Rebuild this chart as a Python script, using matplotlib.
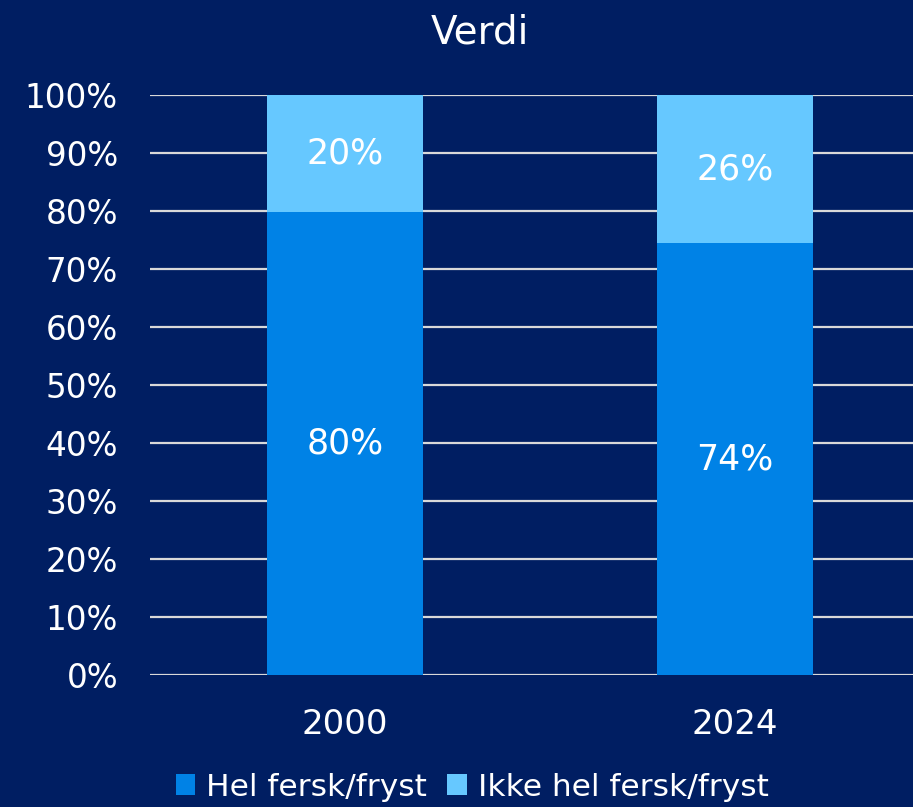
import matplotlib
matplotlib.use("Agg")
import matplotlib.pyplot as plt
import numpy as np

categories = ["2000", "2024"]
hel = [79.8, 74.4]
ikke_hel = [20.2, 25.6]
series_names = ["Hel fersk/fryst", "Ikke hel fersk/fryst"]
title = "Verdi"

BG = "#001E62"
C_DARK = "#0082E6"
C_LIGHT = "#66C8FF"
GRID = "#D9D9D9"

plt.rcParams['font.family'] = ['DejaVu Sans']

fig = plt.figure(figsize=(9.13, 8.07), dpi=100, facecolor=BG)
ax = fig.add_axes([150/913, 132/807, 763/913, 580/807], facecolor=BG)

x = np.arange(len(categories))
w = 0.4
ax.bar(x, hel, width=w, color=C_DARK, label=series_names[0], zorder=3)
ax.bar(x, ikke_hel, width=w, bottom=hel, color=C_LIGHT, label=series_names[1], zorder=3)

FS = 23.5
FS_LBL = 25
for i in range(len(categories)):
    ax.text(x[i], hel[i] / 2, f"{round(hel[i]):d}%", ha='center', va='center',
            color='white', fontsize=FS_LBL, zorder=4)
    ax.text(x[i], hel[i] + ikke_hel[i] / 2, f"{round(ikke_hel[i]):d}%", ha='center',
            va='center', color='white', fontsize=FS_LBL, zorder=4)

ax.set_xlim(-0.5, 1.456)
ax.set_ylim(0, 100)
ax.set_yticks(np.arange(0, 101, 10))
ax.set_yticklabels([f"{v}%" for v in range(0, 101, 10)])
ax.set_xticks(x)
ax.set_xticklabels(categories)
ax.tick_params(axis='y', length=0, pad=23, labelsize=FS, labelcolor='white')
ax.tick_params(axis='x', length=0, pad=24, labelsize=24.5, labelcolor='white')
ax.yaxis.grid(True, color=GRID, linewidth=1.6, zorder=0)
ax.set_axisbelow(True)
for s in ax.spines.values():
    s.set_visible(False)

fig.text(480/913, 1 - 33/807, title, ha='center', va='center', color='white', fontsize=28)

leg = fig.legend(loc='center left', bbox_to_anchor=(176/913, 1 - 787/807), ncol=2, frameon=False,
                 handlelength=0.62, handleheight=0.62, handletextpad=0.35,
                 columnspacing=0.64, borderpad=0, borderaxespad=0,
                 prop={'family': ['DejaVu Sans'], 'size': 22.5})
for t in leg.get_texts():
    t.set_color('white')

fig.savefig("out.png", dpi=100, facecolor=BG)
